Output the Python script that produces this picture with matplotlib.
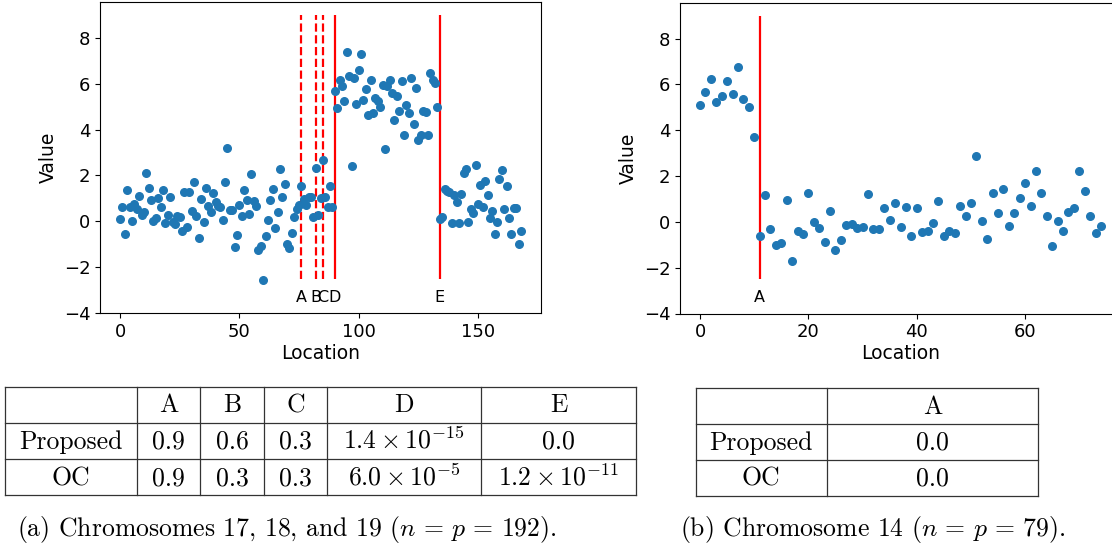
import numpy as np
import matplotlib
matplotlib.use("Agg")
import matplotlib.pyplot as plt

plt.rcParams['mathtext.fontset'] = 'cm'

# chromosomes 17-19, value per location
left_y = [0.11, 0.62, -0.57, 1.35, 0.62, 0.01, 0.75, 0.52, 1.11, 0.26,
          0.39, 2.10, 1.45, 0.91, 0.01, 0.14, 1.04, 0.61, 1.36, -0.09,
          0.30, 1.06, -0.02, -0.13, 0.22, 0.20, -0.41, 1.30, -0.23, 1.26,
          0.45, 1.72, 0.23, -0.73, 0.96, -0.03, 1.45, 0.65, 0.42, 1.24,
          0.84, 0.67, 0.62, 0.04, 1.72, 3.20, 0.48, 0.49, -1.10, -0.58,
          0.72, 0.23, 1.38, 0.91, 0.33, 2.07, 0.90, 0.68, -1.26, -1.07,
          -2.57, -0.65, 0.07, 0.91, 1.42, -0.30, 0.43, 2.27, 1.06, 1.64,
          -0.97, -1.17, -0.50, 0.19, 0.53, 0.72, 1.53, 0.98, 0.72, 1.07,
          1.06, 0.17, 2.32, 0.29, 1.01, 2.67, 1.07, 0.64, 1.53, 0.64,
          5.67, 4.94, 6.14, 5.88, 5.23, 7.36, 6.32, 2.39, 6.26, 5.13,
          6.61, 7.29, 5.30, 5.77, 4.65, 6.16, 4.71, 5.35, 5.22, 4.96,
          5.94, 3.14, 5.88, 6.14, 5.59, 4.42, 5.46, 4.80, 6.11, 3.75,
          5.07, 4.72, 6.26, 4.26, 5.80, 3.53, 3.78, 4.80, 4.75, 3.75,
          6.48, 6.16, 6.03, 4.98,
          0.10, 0.20, 1.40, 1.33, 1.26, -0.06, 1.14, 0.83, -0.06, 1.20,
          2.11, 2.30, -0.02, 0.52, 0.36, 2.45, 0.77, 1.59, 0.62, 1.78,
          1.13, 0.14, 0.46, -0.54, -0.04, 1.84, 2.23, 0.55, 1.53, 0.16,
          -0.55, 0.57, 0.57, -0.97, -0.41]
left_cp = [76, 82, 85, 90, 134]
left_cp_names = ['A', 'B', 'C', 'D', 'E']
left_cp_dashed = [True, True, True, False, False]

# chromosome 14
right_y = [5.11, 5.68, 6.24, 5.23, 5.48, 6.16, 5.56, 6.75, 5.35, 5.01,
           3.72, -0.63, 1.19, -0.30, -1.00, -0.91, 0.97, -1.71, -0.41, -0.51,
           1.27, 0.00, -0.26, -0.89, 0.46, -1.25, -0.78, -0.12, -0.10, -0.28,
           -0.22, 1.20, -0.30, -0.33, 0.61, 0.06, 0.84, -0.23, 0.65, -0.63,
           0.59, -0.46, -0.41, -0.07, 0.91, -0.61, -0.41, -0.48, 0.71, 0.26,
           0.81, 2.88, 0.04, -0.74, 1.26, 0.40, 1.45, -0.20, 0.39, 1.06,
           1.68, 0.70, 2.23, 1.24, 0.27, -1.06, 0.04, -0.38, 0.45, 0.59,
           2.23, 1.35, 0.24, -0.48, -0.19]
right_cp = [11]
right_cp_names = ['A']
right_cp_dashed = [False]

# p-value tables
left_cols = ['A', 'B', 'C', 'D', 'E']
left_proposed = ['0.9', '0.6', '0.3', r'$1.4\times10^{-15}$', '0.0']
left_oc = ['0.9', '0.3', '0.3', r'$6.0\times10^{-5}$', r'$1.2\times10^{-11}$']
right_cols = ['A']
right_proposed = ['0.0']
right_oc = ['0.0']
row_names = ['Proposed', 'OC']
left_caption = r'(a) Chromosomes 17, 18, and 19 ($n\,=\,p\,=\,192$).'
right_caption = r'(b) Chromosome 14 ($n\,=\,p\,=\,79$).'

W, H = 1112, 548
fig = plt.figure(figsize=(W / 100, H / 100), dpi=100)


def px_axes(x0, x1, y0, y1):
    return fig.add_axes([x0 / W, 1 - y1 / H, (x1 - x0) / W, (y1 - y0) / H])


def scatter_panel(ax, y, cps, names, dashed):
    x = np.arange(len(y))
    ax.scatter(x, y, s=30, color='#1f77b4', zorder=3)
    for c, nm, d in zip(cps, names, dashed):
        ax.vlines(c, -2.5, 9, colors='red', linewidth=1.6,
                  linestyles='--' if d else '-', zorder=2)
        ax.text(c, -3.5, nm, ha='center', va='baseline', fontsize=11.5)
    ax.set_ylim(-4, 9.55)
    ax.set_yticks([-4, -2, 0, 2, 4, 6, 8])
    ax.set_xlabel('Location', fontsize=13.5, labelpad=2)
    ax.set_ylabel('Value', fontsize=13.5)
    ax.tick_params(labelsize=13)


ax1 = px_axes(100, 541, 2, 313.3)
scatter_panel(ax1, left_y, left_cp, left_cp_names, left_cp_dashed)
ax1.set_xticks([0, 50, 100, 150])

ax2 = px_axes(680, 1121, 3, 313.5)
scatter_panel(ax2, right_y, right_cp, right_cp_names, right_cp_dashed)
ax2.set_xticks([0, 20, 40, 60])

# tables drawn on an overlay in pixel coordinates
ov = fig.add_axes([0, 0, 1, 1])
ov.set_xlim(0, W)
ov.set_ylim(H, 0)
ov.axis('off')


def draw_table(xs, ys, cols, rows):
    for x in xs:
        ov.plot([x, x], [ys[0], ys[-1]], color='#333333', lw=0.9)
    for y in ys:
        ov.plot([xs[0], xs[-1]], [y, y], color='#333333', lw=0.9)
    cells = [[''] + cols] + rows
    for r, line in enumerate(cells):
        for c, txt in enumerate(line):
            if not txt:
                continue
            cx = (xs[c] + xs[c + 1]) / 2
            ov.text(cx, ys[r] + 26, txt, ha='center', va='baseline',
                    fontsize=18.5, family='cmr10')


draw_table([5, 137, 200, 264, 327, 481, 636], [386.5, 422.5, 459, 495],
           left_cols, [[row_names[0]] + left_proposed, [row_names[1]] + left_oc])
draw_table([695.5, 827, 1038], [388, 424, 460, 496],
           right_cols, [[row_names[0]] + right_proposed, [row_names[1]] + right_oc])

ov.text(17, 536, left_caption, ha='left', va='baseline', fontsize=18.5, family='cmr10')
ov.text(680, 536, right_caption, ha='left', va='baseline', fontsize=18.5, family='cmr10')

fig.savefig('out.png', dpi=100)
